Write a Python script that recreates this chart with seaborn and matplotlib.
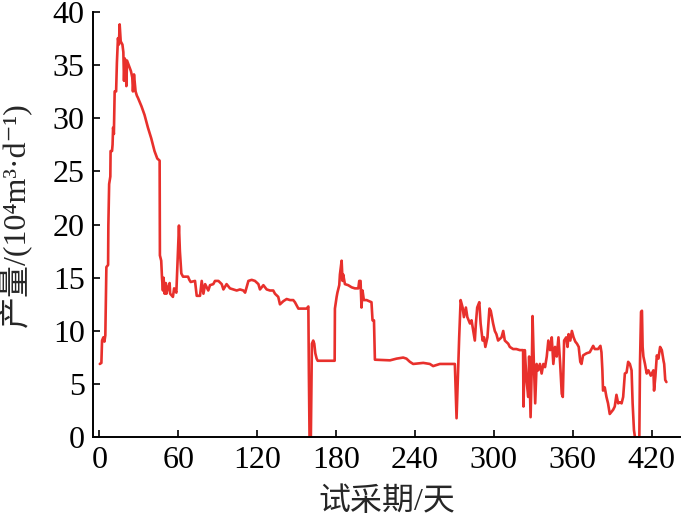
import matplotlib
matplotlib.use("Agg")
import matplotlib.pyplot as plt
import seaborn as sns
import pandas as pd

# trial production: day vs daily gas rate (10^4 m3/d)
days = [
    0.3, 1.5, 2.0, 3.0, 3.8, 4.5, 4.8, 5.3, 6.6, 6.8, 7.4, 8.3, 8.5, 9.6, 10.0,
    10.4, 11.0, 11.6, 12.7, 13.3, 14.1, 14.8, 15.4, 16.2, 17.5, 18.2, 18.7, 19.3,
    20.0, 20.5, 21.0, 22.5, 24.0, 25.0, 25.5, 26.3, 27.5, 28.5, 29.3, 31.0, 32.0,
    34.3, 36.9, 39.4, 41.9, 44.0, 45.8, 46.0, 47.0, 47.6, 48.3, 48.8, 49.6, 50.5,
    51.0, 52.0, 53.4, 53.8, 55.9, 56.8, 58.5, 59.7, 60.5, 61.2, 62.3, 63.6, 67.4,
    68.4, 69.4,
    72.7, 74.0, 76.5, 77.8, 79.1, 80.4, 82.8, 84.1, 86.6, 87.9, 90.5, 93.0, 94.3,
    96.7, 99.3, 101.8, 104.4, 106.9, 109.5, 110.8, 113.3, 115.8, 118.3, 120.9,
    122.1, 124.7, 127.2, 129.7, 132.2, 133.5, 136.0, 137.3, 139.9, 142.4, 145.0,
    147.4, 148.7, 150.0, 151.3, 157.6, 158.9, 159.3, 159.8, 160.8, 161.6, 162.6,
    163.4, 164.2, 165.2, 166.0, 178.9,
    179.1, 180.4, 181.0, 182.4, 182.9, 184.2, 184.9, 185.4, 186.7, 189.2, 191.8,
    194.3, 196.9, 197.6, 198.6, 199.3, 200.1, 201.1, 203.2, 206.9, 207.7, 208.8,
    209.5, 221.0, 226.0, 231.0, 233.5, 236.1, 238.6, 246.3, 251.3, 253.8, 256.4,
    258.9, 270.3, 271.6, 272.9, 273.6, 274.7, 276.2, 277.2, 278.7, 279.8, 281.8,
    283.0, 284.3, 285.5, 286.3, 287.3, 288.9, 289.9, 291.4, 292.5, 293.5, 295.1,
    296.6, 297.6, 299.4, 300.7, 301.9, 303.2, 305.8, 307.1, 308.3, 310.9, 312.1,
    314.6, 317.1, 319.7, 322.2, 322.5, 323.5, 324.8, 326.1, 326.8, 327.9, 328.9,
    329.4, 330.4, 331.4, 332.5, 333.7, 335.0, 336.3, 337.6, 338.9, 340.2, 341.4,
    342.7, 344.0, 345.2, 346.5, 347.8, 349.1, 350.4, 351.6, 352.4, 353.4, 355.0,
    356.0, 356.8, 358.1, 359.3, 360.6, 361.9, 363.2, 364.5, 365.7, 366.6, 367.8,
    370.4, 372.9, 375.5, 376.7, 379.2, 381.0, 381.8, 382.5, 383.0, 384.3, 385.6,
    386.8, 388.1, 389.4, 390.7, 391.9, 393.2, 394.5, 395.8, 397.1, 398.3, 399.6,
    400.9, 402.1, 403.4, 404.7, 405.5, 406.5, 407.3, 410.6, 411.1, 411.9, 412.6,
    413.1, 413.7, 414.9, 416.2, 417.5, 419.3, 421.3, 421.8, 422.8, 423.9, 425.1,
    426.4, 427.7, 429.0, 429.5, 430.3, 431.2,
]
rate = [
    6.9, 7.0, 9.1, 9.4, 9.0, 9.6, 11.9, 16.0, 16.2, 19.9, 23.8, 24.5, 26.9, 26.9, 27.5,
    29.1, 28.5, 32.5, 32.5, 35.2, 37.5, 36.9, 38.8, 37.2, 36.9, 36.2, 33.5, 35.6,
    35.0, 33.0, 35.4, 34.9, 34.4, 33.8, 32.5, 34.1, 32.5, 32.1, 31.9, 31.4, 31.1,
    30.3, 29.1, 28.1, 26.9, 26.2, 26.0, 17.1, 16.6, 15.0, 13.8, 15.0, 13.5, 14.5,
    13.5, 14.0, 14.5, 13.5, 13.2, 14.0, 13.6, 17.5, 19.9, 17.5, 15.4, 15.1, 15.1,
    14.8, 14.6,
    14.7, 13.3, 13.3, 14.7, 13.5, 14.4, 13.8, 14.3, 14.4, 14.7, 14.7, 14.4, 13.9,
    14.4, 14.0, 13.9, 13.8, 13.9, 13.8, 13.6, 14.7, 14.8, 14.7, 14.4,
    13.9, 14.3, 13.9, 13.8, 13.8, 13.5, 13.2, 12.5, 12.8, 13.0, 12.9,
    12.9, 12.7, 12.4, 12.1, 12.1, 12.3, 6.0, 0.0, 0.0, 8.8, 9.1,
    8.8, 7.9, 7.4, 7.2, 7.2,
    12.1, 13.2, 13.6, 14.3, 15.3, 16.6, 14.7, 15.3, 14.4, 14.3, 14.1,
    14.0, 14.0, 14.7, 14.7, 12.2, 13.8, 12.9, 12.9, 12.7, 11.0, 11.0,
    7.3, 7.24, 7.4, 7.5, 7.4, 7.1, 6.9, 7.0, 6.9, 6.7, 6.8,
    6.9, 6.9, 1.8, 6.9, 9.4, 12.9, 12.2, 11.3, 12.2, 11.3, 10.7,
    11.0, 10.0, 9.1, 10.7, 12.2, 12.7, 10.7, 9.1, 9.4, 8.5, 9.4,
    12.1, 11.9, 10.7, 10.0, 9.7, 9.1, 9.4, 10.0, 9.1, 8.8, 8.5,
    8.3, 8.3, 8.2, 8.2, 2.9, 8.2, 5.4, 3.8, 7.6, 1.9, 7.2,
    11.4, 6.9, 3.2, 6.9, 6.3, 6.9, 6.0, 6.9, 6.6, 7.6, 9.1,
    8.2, 9.4, 6.9, 8.5, 7.6, 9.4, 6.9, 4.1, 3.8, 9.1, 9.4,
    8.5, 9.7, 9.1, 10.0, 9.4, 9.0, 8.8, 8.5, 7.1, 6.9, 7.7,
    7.9, 8.0, 8.6, 8.3, 8.3, 8.6, 8.0, 6.3, 4.4, 4.7, 3.8,
    3.2, 2.2, 2.4, 2.6, 2.9, 4.0, 3.2, 3.3, 3.2, 3.8, 6.0,
    6.1, 7.1, 6.9, 6.3, 3.2, 0.7, 0.0, 0.0, 6.9, 11.8, 11.9,
    8.5, 7.6, 6.9, 6.0, 6.3, 5.8, 6.3, 4.4, 5.7, 7.7, 7.4,
    8.5, 8.2, 7.2, 6.9, 5.4, 5.2,
]
xticks = [0, 60, 120, 180, 240, 300, 360, 420]
yticks = [0, 5, 10, 15, 20, 25, 30, 35, 40]

sns.set_style("ticks")
plt.rcParams['font.family'] = ['Liberation Serif', 'Noto Sans CJK SC', 'DejaVu Sans']

df = pd.DataFrame({'day': days, 'rate': rate})

fig = plt.figure(figsize=(7, 5.27), dpi=100)
ax = fig.add_axes([0.133, 0.170, 0.838, 0.808])

sns.lineplot(data=df, x='day', y='rate', ax=ax, sort=False, estimator=None,
             color='#e8302c', linewidth=1.9)

ax.set_xlim(-4.8, 441.3)
ax.set_ylim(0, 40)
ax.set_xticks(xticks)
ax.set_yticks(yticks)
ax.tick_params(direction='in', length=5, width=1.2, labelsize=23, pad=6,
               colors='black')
for side in ['top', 'right']:
    ax.spines[side].set_visible(False)
for side in ['left', 'bottom']:
    ax.spines[side].set_linewidth(1.4)
    ax.spines[side].set_color('black')

ax.set_xlabel('试采期/天', fontsize=23)
ax.set_ylabel('产量/(10⁴m³·d⁻¹)', fontsize=23)
ax.xaxis.set_label_coords(0.5, -0.118)
ax.yaxis.set_label_coords(-0.104, 0.523)

fig.savefig('out.png', dpi=100)
